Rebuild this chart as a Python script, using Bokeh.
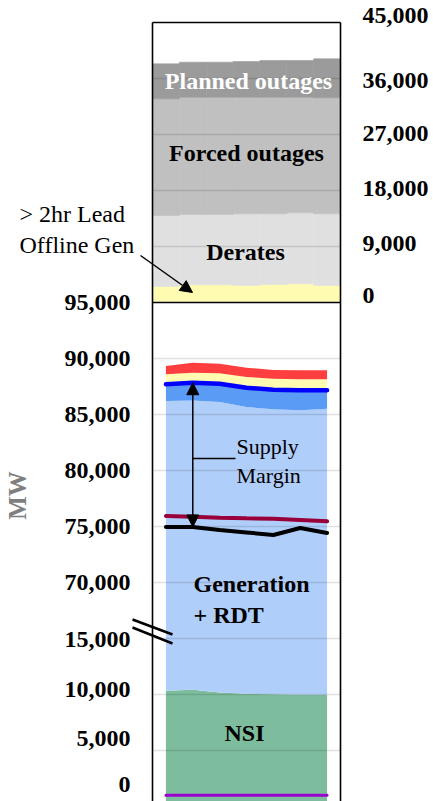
import numpy as np
from bokeh.plotting import figure
from bokeh.models import (Range1d, LinearAxis, FixedTicker, CustomJSTickFormatter,
                          Label, Arrow, NormalHead)
from bokeh.embed import file_html
from bokeh.resources import INLINE

# ---------------- data ----------------
hours = [0, 1, 2, 3, 4, 5, 6]

# upper panel (right axis, MW)
lead_offline_gen = [2570, 2840, 2840, 2730, 2890, 3000, 2730]
derates = [11410, 11300, 11300, 11520, 11360, 11410, 11520]
forced_outages = [18750, 18850, 18850, 18740, 18740, 18580, 18650]
planned_outages = [5630, 5630, 5630, 5740, 5900, 5900, 6260]

# lower panel (left axis, MW, axis broken between 15,000 and 70,000)
nsi = [10330, 10420, 10180, 10060, 10030, 9970, 9970]
gen_rdt = [75870, 75840, 75940, 75610, 75430, 75400, 75550]
reserves = [1500, 1580, 1630, 1720, 1750, 1790, 1640]
offline_gen = [890, 890, 930, 960, 990, 980, 980]
other_cap = [740, 900, 860, 830, 770, 800, 800]
forecast_demand = [75940, 75880, 75790, 75730, 75700, 75580, 75460]
actual_demand = [74960, 74960, 74690, 74470, 74240, 74870, 74420]
purple_series = [1000, 1000, 1000, 1000, 1000, 1000, 1000]

left_ticks = [0, 5000, 10000, 15000, 70000, 75000, 80000, 85000, 90000, 95000]
right_ticks = [0, 9000, 18000, 27000, 36000, 45000]

# ---------------- layout constants (page pixels) ----------------
PAGE_W, PAGE_H = 433, 801
BOX_L, BOX_R = 152, 340          # panel box edges
BOX_T, SEP_Y = 22, 302           # top of upper panel, separator
FRAME_R = 342                    # plotting frame spans x 0..342, y 0..801
X0, X1 = -0.5, 6.5               # data x at BOX_L / BOX_R
PX_PER_X = (BOX_R - BOX_L) / (X1 - X0)
MW_PER_PX_LOW = 1 / 0.0112       # lower panel scale
D_SEP = 45000.0                  # display value of 95,000 (separator)
TOP_PER_PX = 45000.0 / (SEP_Y - BOX_T)


def xpx(px):
    return X0 + (px - BOX_L) / PX_PER_X


def ymain(py):
    return D_SEP - (py - SEP_Y) * MW_PER_PX_LOW


def ytop(py):
    return (SEP_Y - py) * TOP_PER_PX


def disp(v):
    v = np.asarray(v, dtype=float)
    return np.where(v > 40000, v - 50000, v)


FONT = "Liberation Serif"

p = figure(frame_width=FRAME_R, frame_height=PAGE_H,
           x_range=Range1d(xpx(0), xpx(FRAME_R)),
           y_range=Range1d(ymain(PAGE_H), ymain(0)),
           x_axis_type=None, y_axis_type=None,
           output_backend="svg", toolbar_location=None,
           min_border_left=0, min_border_right=PAGE_W - FRAME_R,
           min_border_top=0, min_border_bottom=0,
           outline_line_color=None,
           background_fill_color="white", border_fill_color="white")
p.extra_y_ranges = {"top": Range1d(ytop(PAGE_H), ytop(0))}

# ---------- upper panel: stacked outages ----------
t1 = np.array(lead_offline_gen, float)
t2 = t1 + derates
t3 = t2 + forced_outages
t4 = t3 + planned_outages
for bot, top, col in [(np.zeros(7), t1, "#fffbb0"), (t1, t2, "#e0e0e0"),
                      (t2, t3, "#c0c0c0"), (t3, t4, "#9b9b9b")]:
    p.vbar(x=hours, width=1.0, bottom=bot, top=top, fill_color=col,
           line_color=col, line_width=0.6, y_range_name="top")
top_grid = [9000, 18000, 27000, 36000]
p.segment(x0=[X0] * 4, y0=top_grid, x1=[X1] * 4, y1=top_grid, y_range_name="top",
          line_color="black", line_alpha=0.12, line_width=1.5)

# ---------- lower panel: stacked supply ----------
b1 = np.array(nsi, float)
b2 = b1 + gen_rdt
b3 = b2 + reserves
b4 = b3 + offline_gen
b5 = b4 + other_cap
p.varea(x=hours, y1=disp(np.zeros(7)), y2=disp(b1), fill_color="#7dbd9d")
p.varea(x=hours, y1=disp(b1), y2=disp(b2), fill_color="#b0cefa")
p.varea(x=hours, y1=disp(b2), y2=disp(b3), fill_color="#5a9bf5")
p.varea(x=hours, y1=disp(b3), y2=disp(b4), fill_color="#fffbb0")
p.varea(x=hours, y1=disp(b4), y2=disp(b5), fill_color="#ff3f3f")

low_grid = disp([5000, 10000, 15000, 70000, 75000, 80000, 85000, 90000])
p.segment(x0=[X0] * len(low_grid), y0=low_grid, x1=[X1] * len(low_grid), y1=low_grid,
          line_color="black", line_alpha=0.12, line_width=1.5)

p.line(hours, disp(purple_series), line_color="#9a00cc", line_width=3, line_cap="round")
p.line(hours, disp(forecast_demand), line_color="#99003a", line_width=4, line_cap="round")
p.line(hours, disp(actual_demand), line_color="black", line_width=4, line_cap="round")
p.line(hours, disp(b3), line_color="#0000ff", line_width=4.5, line_cap="round")

# ---------- panel boxes ----------
p.segment(x0=[X0, X1], y0=[45000, 45000], x1=[X0, X1], y1=[ytop(PAGE_H + 5)] * 2,
          y_range_name="top", line_color="black", line_width=1.6)
p.segment(x0=[X0, X0], y0=[45000, 0], x1=[X1, X1], y1=[45000, 0],
          y_range_name="top", line_color="black", line_width=1.6)

# ---------- axes ----------
fmt_code = """
let best = 0, bd = Infinity;
for (let i = 0; i < pos.length; i++) {
  const d = Math.abs(pos[i] - tick);
  if (d < bd) { bd = d; best = i; }
}
return labels[best];
"""
left_nudge_px = {0: 22, 5000: 12, 10000: 5, 15000: -1}
left_pos = [float(disp(t)) + left_nudge_px.get(t, 0) * MW_PER_PX_LOW for t in left_ticks]
left_labels = [f"{t:,}" for t in left_ticks]
right_nudge_px = {0: 7, 9000: 3, 18000: 2, 27000: 1, 36000: -2, 45000: 7}
right_pos = [t + right_nudge_px.get(t, 0) * TOP_PER_PX for t in right_ticks]
right_labels = [f"{t:,}" for t in right_ticks]

axis_style = dict(axis_line_color=None, major_tick_line_color=None,
                  minor_tick_line_color=None, major_tick_out=0, major_tick_in=0,
                  major_label_text_font=FONT, major_label_text_font_size="24px",
                  major_label_text_font_style="bold", major_label_text_color="black")

left = LinearAxis(ticker=FixedTicker(ticks=left_pos), fixed_location=X0,
                  formatter=CustomJSTickFormatter(args=dict(pos=left_pos, labels=left_labels),
                                                  code=fmt_code),
                  major_label_standoff=22, **axis_style)
p.add_layout(left, "left")

right = LinearAxis(y_range_name="top", ticker=FixedTicker(ticks=right_pos),
                   formatter=CustomJSTickFormatter(args=dict(pos=right_pos, labels=right_labels),
                                                   code=fmt_code),
                   major_label_standoff=20, **axis_style)
p.add_layout(right, "right")

# ---------- annotations ----------
def lab(x, y, text, size="24px", style="bold", color="black", align="center",
        rng="default", lh=1.2, angle=0.0):
    p.add_layout(Label(x=x, y=y, text=text, y_range_name=rng, text_font=FONT,
                       text_font_size=size, text_font_style=style, text_color=color,
                       text_align=align, text_baseline="middle", text_line_height=lh,
                       angle=angle))

# axis title
lab(xpx(17), ymain(495), "MW", size="25px", color="#7f7f7f", angle=np.pi / 2)

lab(xpx(248), ytop(80), "Planned outages", color="white", rng="top")
lab(xpx(246), ytop(152), "Forced outages", rng="top")
lab(xpx(245), ytop(251), "Derates", rng="top")
lab(xpx(19), ytop(229), "> 2hr Lead\nOffline  Gen", size="24px", style="normal",
    align="left", rng="top", lh=1.17)
lab(xpx(236), ymain(460.5), "Supply\nMargin", size="22px", style="normal",
    align="left", lh=1.14)
lab(xpx(193), ymain(599), "Generation\n+ RDT", align="left", lh=1.17)
lab(xpx(244), ymain(732), "NSI")

head = lambda: NormalHead(size=12, fill_color="black", line_color="black")

# arrow to >2hr lead offline gen
p.add_layout(Arrow(x_start=xpx(140), y_start=ytop(255), x_end=xpx(192), y_end=ytop(292),
                   y_range_name="top", line_color="black", line_width=1.5, end=head()))

# supply margin double arrow between capacity and actual demand
p.add_layout(Arrow(x_start=hours[1], y_start=float(disp(b3[1])),
                   x_end=hours[1], y_end=float(disp(actual_demand[1])),
                   line_color="black", line_width=1.5, start=head(), end=head()))
p.segment(x0=[hours[1]], y0=[ymain(458)], x1=[xpx(235)], y1=[ymain(458)],
          line_color="black", line_width=1.5)

# axis break marks
for (ya, yb) in [(619, 634), (627, 643)]:
    p.segment(x0=[xpx(132)], y0=[ymain(ya)], x1=[xpx(172)], y1=[ymain(yb)],
              line_color="black", line_width=2.5)

open("out.html", "w").write(file_html(p, INLINE))
